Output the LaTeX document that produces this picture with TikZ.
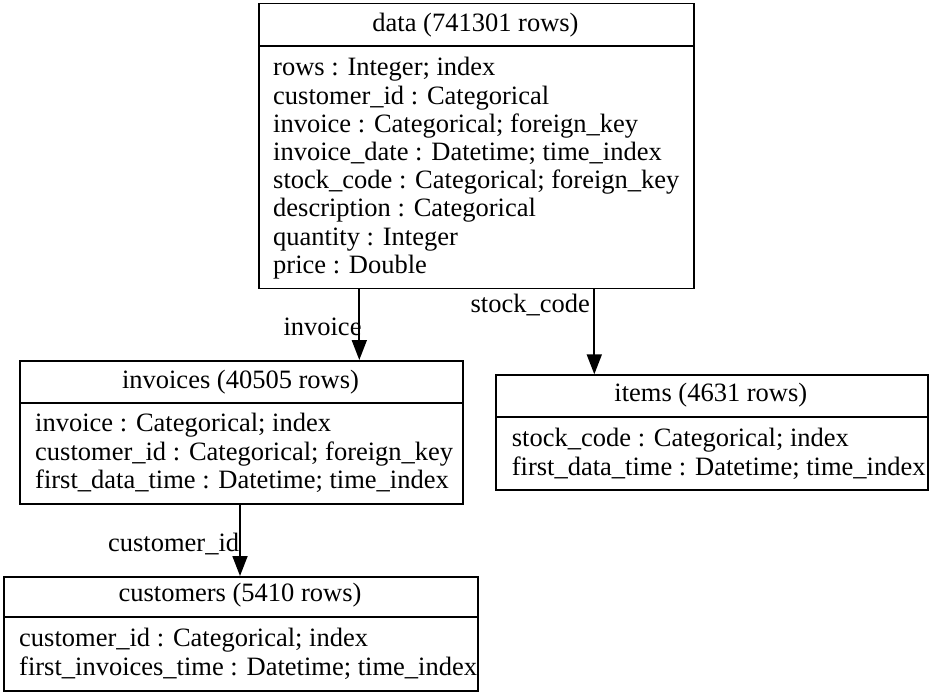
\documentclass[tikz,border=0pt]{standalone}
\usepackage{fontspec}
\setmainfont{Liberation Serif}
\usetikzlibrary{arrows.meta}
\begin{document}
\begin{tikzpicture}[x=1pt,y=-1pt,
  tbl/.style={draw, line width=1.8pt, inner sep=0pt, anchor=north west},
  sep/.style={line width=1.8pt},
  txt/.style={inner sep=0pt, font=\fontsize{26.5}{28.2}\selectfont},
  hdr/.style={txt, anchor=base},
  row/.style={txt, anchor=base west},
  lbl/.style={txt, anchor=base east},
  arr/.style={line width=1.8pt, -{Triangle[length=20pt,width=15pt]}}]
\useasboundingbox (0,0) rectangle (931,692);
% data
\node[tbl, minimum width=434.4pt, minimum height=285pt] (data) at (258.3,2.7) {};
\draw[sep] (data.west |- 0,45.7) -- (data.east |- 0,45.7);
\node[hdr] (dataH) at (475.5,31.7) {data (741301 rows)};
\foreach \t [count=\i from 0] in {rows : Integer; index, customer\_id : Categorical,
  invoice : Categorical; foreign\_key, invoice\_date : Datetime; time\_index,
  stock\_code : Categorical; foreign\_key, description : Categorical,
  quantity : Integer, price : Double}
  \node[row] (data\i) at (273,76+28.2*\i) {\t};
% invoices
\node[tbl, minimum width=443pt, minimum height=142.7pt] (invoices) at (19,360) {};
\draw[sep] (invoices.west |- 0,402.7) -- (invoices.east |- 0,402.7);
\node[hdr] (invH) at (240.5,388) {invoices (40505 rows)};
\foreach \t [count=\i from 0] in {invoice : Categorical; index,
  customer\_id : Categorical; foreign\_key, first\_data\_time : Datetime; time\_index}
  \node[row] (inv\i) at (35,431.7+28.3*\i) {\t};
% items
\node[tbl, minimum width=431.7pt, minimum height=115pt] (items) at (495,374.3) {};
\draw[sep] (items.west |- 0,416.7) -- (items.east |- 0,416.7);
\node[hdr] (itmH) at (710.8,401.7) {items (4631 rows)};
\foreach \t [count=\i from 0] in {stock\_code : Categorical; index,
  first\_data\_time : Datetime; time\_index}
  \node[row] (itm\i) at (511.7,446.7+28.3*\i) {\t};
% customers
\node[tbl, minimum width=474pt, minimum height=114pt] (customers) at (3,576) {};
\draw[sep] (customers.west |- 0,617) -- (customers.east |- 0,617);
\node[hdr] (cusH) at (240,601.7) {customers (5410 rows)};
\foreach \t [count=\i from 0] in {customer\_id : Categorical; index,
  first\_invoices\_time : Datetime; time\_index}
  \node[row] (cus\i) at (19,646.7+28.3*\i) {\t};
% connectors
\draw[arr] (359.3,0 |- data.south) -- (359.3,0 |- invoices.north);
\node[lbl] (linv) at (361.7,335) {invoice};
\draw[arr] (594.3,0 |- data.south) -- (594.3,0 |- items.north);
\node[lbl] (lstk) at (590,313) {stock\_code};
\draw[arr] (240,0 |- invoices.south) -- (240,0 |- customers.north);
\node[lbl] (lcus) at (239.3,551.7) {customer\_id};
\end{tikzpicture}
\end{document}
